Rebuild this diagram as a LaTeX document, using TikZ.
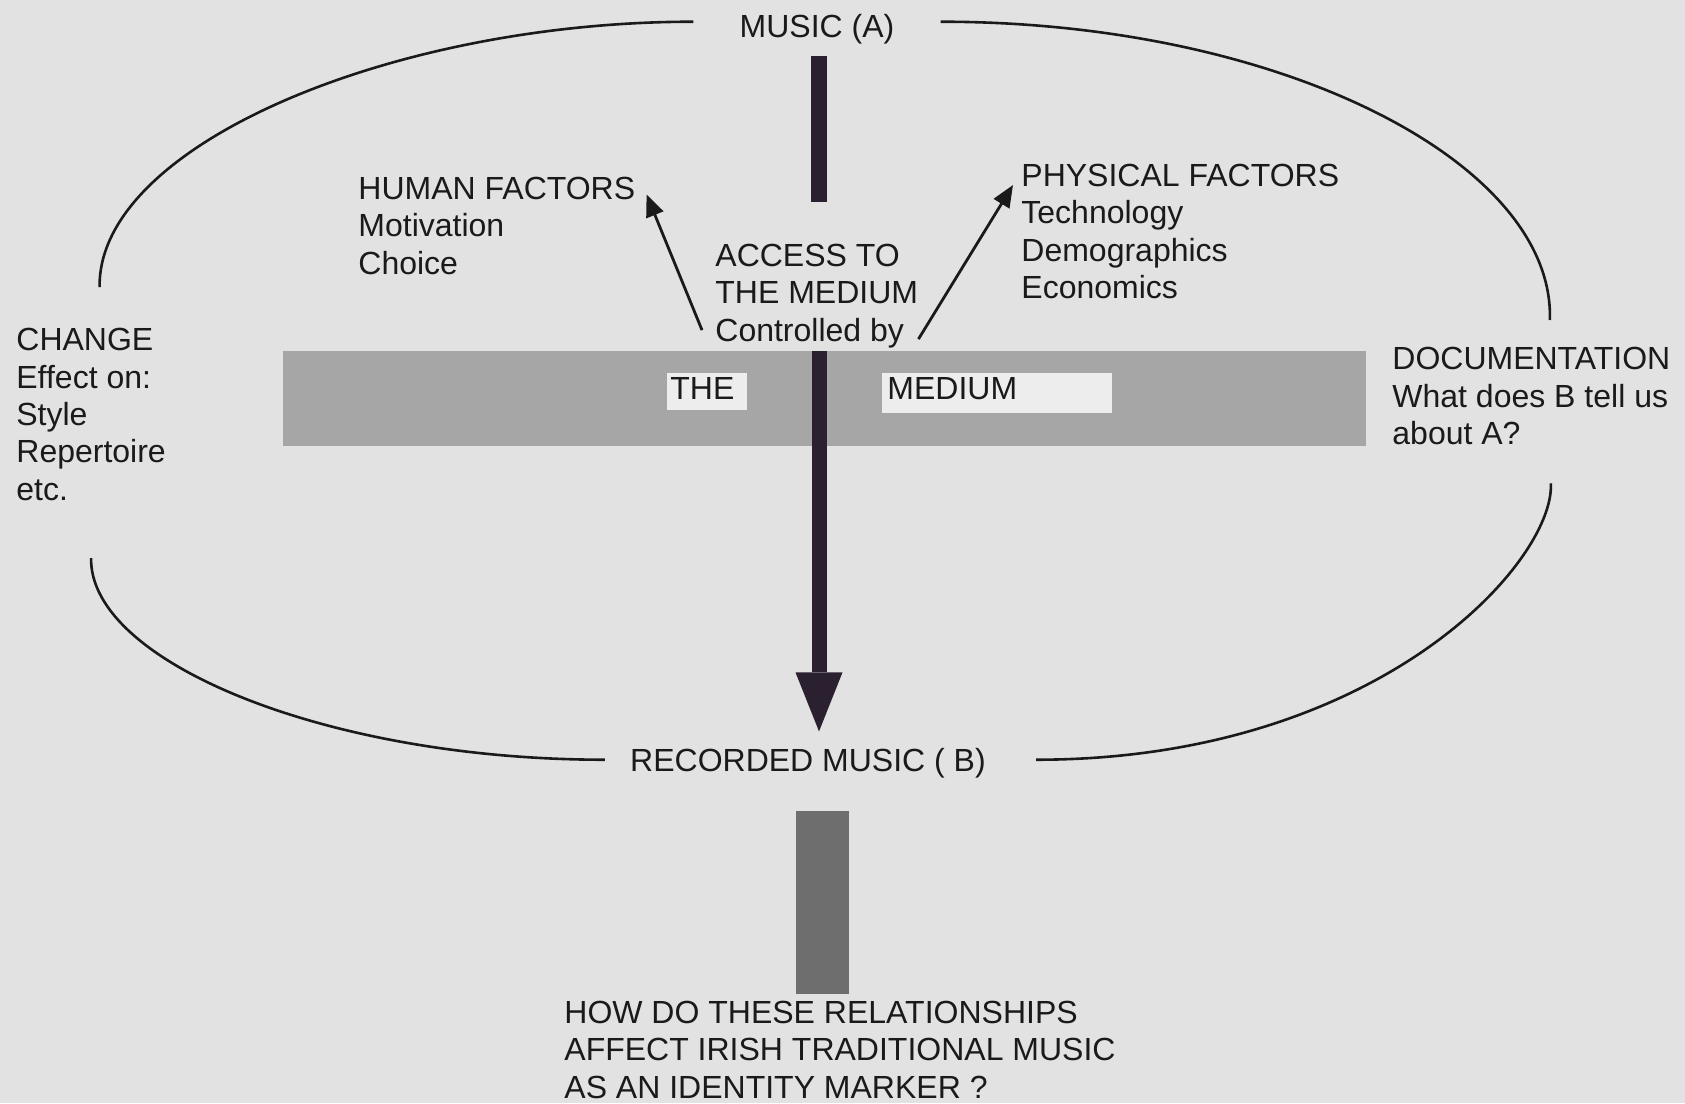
\documentclass[tikz,border=0pt]{standalone}
\usepackage{fontspec}
\setmainfont{Liberation Sans}
\usepackage{xcolor}
\usepackage{tikz}
\usetikzlibrary{arrows.meta, positioning, calc}
\definecolor{paper}{HTML}{E2E2E2}
\definecolor{ink}{HTML}{1A1A1A}
\definecolor{bardark}{HTML}{2B2030}
\definecolor{bandgray}{HTML}{A6A6A6}
\definecolor{boxlight}{HTML}{EDEDED}
\definecolor{stemgray}{HTML}{6E6E6E}

\begin{document}
\begin{tikzpicture}[
  x=0.5pt, y=-0.5pt,
  every node/.style={font=\fontsize{16pt}{18.7pt}\selectfont, text=ink, inner sep=0pt},
  block/.style={anchor=north west, align=left},
  solidbar/.style={rectangle, fill=bardark, draw=none},
  grayband/.style={rectangle, fill=bandgray, draw=none, anchor=north west},
  boxlabel/.style={rectangle, fill=boxlight, anchor=north west, align=left, text height=13pt},
  ringline/.style={line width=1.3pt, color=ink},
  factorarrow/.style={-{Triangle[length=11pt, width=9pt]}, line width=1.4pt, color=ink},
  mainarrow/.style={-{Triangle[length=29.5pt, width=23.5pt, line width=0pt]}, line width=7.5pt, color=bardark, shorten >=8pt},
]
  \fill[paper] (0,0) rectangle (1685,1103);
  \useasboundingbox (0,0) rectangle (1685,1103);

  % top of the loop
  \node[anchor=base, inner xsep=23pt] (music) at (817,37) {MUSIC (A)};
  \node[solidbar, minimum width=8pt, minimum height=73pt] (topbar) at (819,129) {};

  \node[block] (human) at (358,176.5) {HUMAN FACTORS\\Motivation\\Choice};
  \node[block] (physical) at (1021,163.5) {PHYSICAL FACTORS\\Technology\\Demographics\\Economics};
  \node[block] (access) at (715,243.5) {ACCESS TO\\THE MEDIUM\\Controlled by};

  \node[block] (change) at (16,328) {CHANGE\\Effect on:\\Style\\Repertoire\\etc.};
  \node[block] (documentation) at (1392,347) {DOCUMENTATION\\What does B tell us\\about A?};

  % the medium
  \node[grayband, minimum width=541.5pt, minimum height=47.5pt] (band) at (283,351) {};
  \node[boxlabel, text width=37pt, inner xsep=1.5pt, text depth=5.5pt] (the) at (667,373) {THE};
  \node[boxlabel, text width=110pt, inner xsep=2.5pt, text depth=7pt] (medium) at (882,373) {MEDIUM};

  \node[anchor=base] (recorded) at (808,771) {RECORDED MUSIC ( B)};
  \node[solidbar, fill=stemgray, minimum width=26.5pt, minimum height=91.5pt] (stem) at (822.5,902.5) {};
  \node[block] (question) at (564,1000.5) {HOW DO THESE RELATIONSHIPS\\AFFECT IRISH TRADITIONAL MUSIC\\AS AN IDENTITY MARKER ?};

  % arrows
  \draw[factorarrow] ([xshift=-6.5pt,yshift=9pt]access.south west) -- ([xshift=5.5pt,yshift=-9pt]human.north east);
  \draw[factorarrow] ([yshift=4.5pt]access.south east) -- ([xshift=-4pt,yshift=-10.75pt]physical.north west);
  \draw[mainarrow] (band.north -| topbar.center) -- (recorded.north -| topbar.center);

  % the loop
  \draw[ringline] ([yshift=3.5pt]music.west) .. controls +(-300,0) and +(-2,-142) .. ([xshift=4.25pt,yshift=20.5pt]change.north);
  \draw[ringline] ([yshift=3.5pt]music.east) .. controls +(341,0) and +(5,-157) .. ([xshift=9.25pt,yshift=13.5pt]documentation.north);
  \draw[ringline] ([yshift=-28.5pt]change.south) .. controls +(-2,103) and +(-280,0) .. ([xshift=-12.5pt,yshift=1.5pt]recorded.west);
  \draw[ringline] ([xshift=25pt,yshift=1.5pt]recorded.east) .. controls +(343,0) and +(4,78) .. ([xshift=9.75pt,yshift=-19pt]documentation.south);

\end{tikzpicture}
\end{document}
